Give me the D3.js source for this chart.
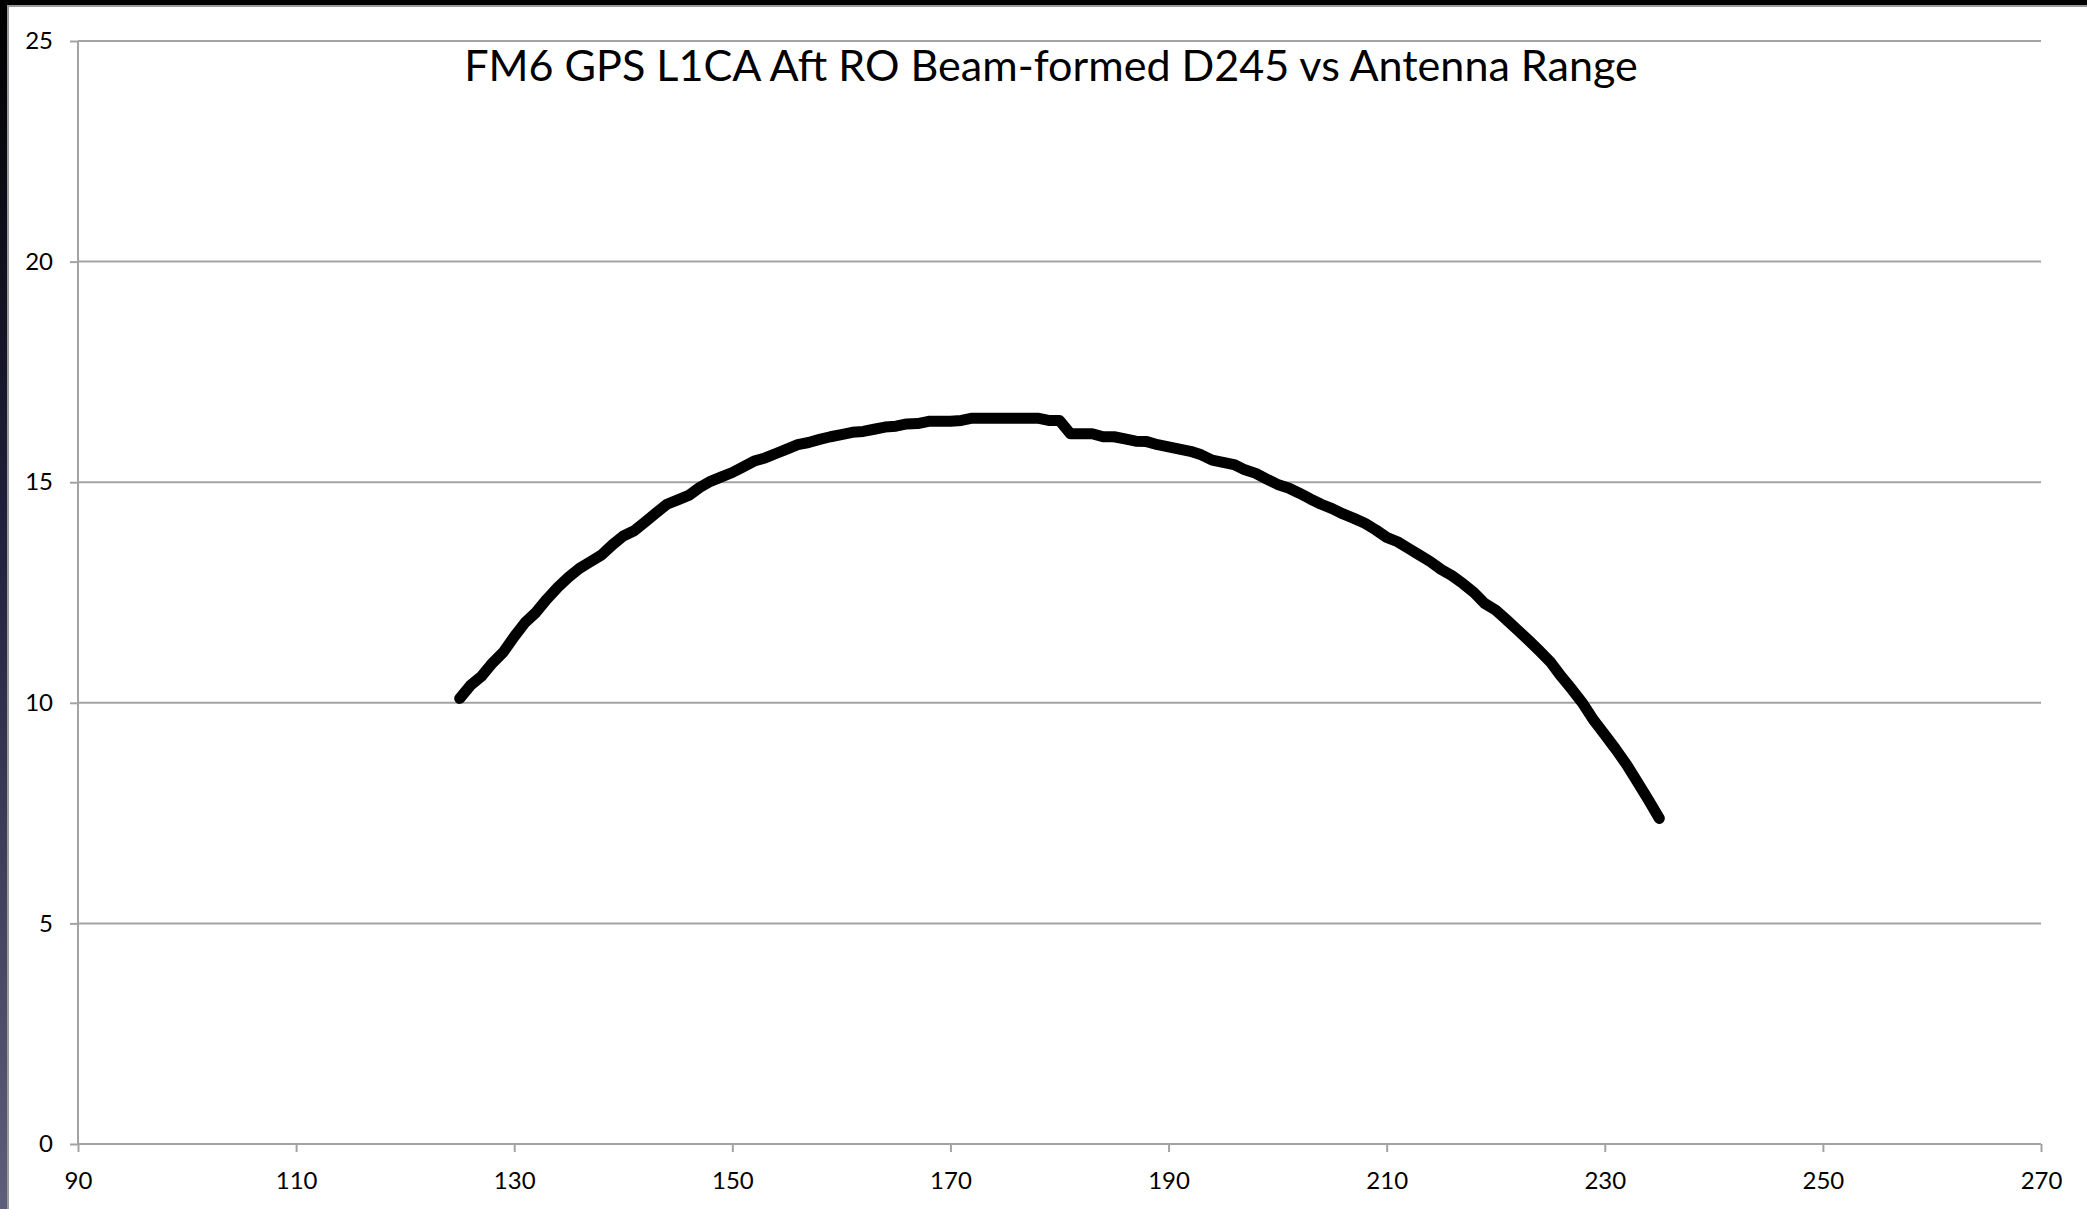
<!DOCTYPE html>
<html>
<head>
<meta charset="utf-8">
<script src="https://cdn.jsdelivr.net/npm/d3@7"></script>
<style>
  html, body { margin: 0; padding: 0; background: #fff; overflow: hidden; }
  svg { display: block; }
  text { font-family: Lato, "Open Sans", sans-serif; fill: #000; }
</style>
</head>
<body>
<svg id="chart" width="2087" height="1209"></svg>
<script>
const titleText = "FM6 GPS L1CA Aft RO Beam-formed D245 vs Antenna Range";
const xTicks = [90, 110, 130, 150, 170, 190, 210, 230, 250, 270];
const yTicks = [0, 5, 10, 15, 20, 25];
const antennaRange = [125,126,127,128,129,130,131,132,133,134,135,136,137,138,139,140,141,142,143,144,145,146,147,148,149,150,
  151,152,153,154,155,156,157,158,159,160,161,162,163,164,165,166,167,168,169,170,171,172,173,174,175,176,177,178,179,180,
  181,182,183,184,185,186,187,188,189,190,191,192,193,194,195,196,197,198,199,200,201,202,203,204,205,206,207,208,209,210,
  211,212,213,214,215,216,217,218,219,220,221,222,223,224,225,226,227,228,229,230,231,232,233,234,235];
const d245 = [10.1,10.4,10.6,10.9,11.15,11.5,11.82,12.05,12.35,12.62,12.85,13.05,13.2,13.35,13.58,13.78,13.9,14.1,14.3,14.5,14.6,14.7,14.88,15.02,15.12,15.22,
  15.35,15.48,15.55,15.65,15.75,15.85,15.9,15.97,16.03,16.08,16.13,16.15,16.2,16.25,16.27,16.32,16.33,16.38,16.38,16.38,16.4,16.45,16.45,16.45,16.45,16.45,16.45,16.45,16.4,16.4,
  16.1,16.1,16.1,16.03,16.03,15.98,15.93,15.92,15.85,15.8,15.75,15.7,15.62,15.5,15.45,15.4,15.28,15.2,15.07,14.95,14.87,14.75,14.62,14.5,14.4,14.28,14.18,14.07,13.92,13.75,
  13.65,13.5,13.35,13.2,13.02,12.88,12.7,12.5,12.25,12.1,11.88,11.65,11.42,11.18,10.93,10.6,10.3,9.98,9.6,9.28,8.95,8.6,8.2,7.8,7.38];

const svg = d3.select("#chart");
const W = 2087, H = 1209;
const plot = { left: 78, right: 2041, top: 41, bottom: 1144 };
const gridColor = "#a3a3a3";

// frame: dark top band and gradient left band
const defs = svg.append("defs");
const grad = defs.append("linearGradient").attr("id", "leftGrad")
  .attr("x1", 0).attr("y1", 0).attr("x2", 0).attr("y2", 1);
grad.append("stop").attr("offset", "0%").attr("stop-color", "#000000");
grad.append("stop").attr("offset", "45%").attr("stop-color", "#22223e");
grad.append("stop").attr("offset", "100%").attr("stop-color", "#5e5e7a");
svg.append("rect").attr("x", 0).attr("y", 0).attr("width", W).attr("height", H).attr("fill", "#fff");
svg.append("rect").attr("x", 0).attr("y", 0).attr("width", W).attr("height", 6).attr("fill", "#000");
svg.append("rect").attr("x", 0).attr("y", 5).attr("width", W).attr("height", 2).attr("fill", "#9a9a9a");
svg.append("rect").attr("x", 0).attr("y", 0).attr("width", 8).attr("height", H).attr("fill", "url(#leftGrad)");
svg.append("rect").attr("x", 7).attr("y", 5).attr("width", 2).attr("height", H).attr("fill", "#9a9a9a");

const x = d3.scaleLinear().domain([90, 270]).range([plot.left, plot.right]);
const y = d3.scaleLinear().domain([0, 25]).range([plot.bottom, plot.top]);

// gridlines
svg.append("g").selectAll("line").data(yTicks.filter(d => d > 0)).join("line")
  .attr("x1", plot.left).attr("x2", plot.right)
  .attr("y1", d => y(d)).attr("y2", d => y(d))
  .attr("stroke", gridColor).attr("stroke-width", 2);

// y axis
const yAxis = svg.append("g").attr("transform", `translate(${plot.left},0)`)
  .call(d3.axisLeft(y).tickValues(yTicks).tickSize(8).tickPadding(17).tickFormat(d3.format("d")));
yAxis.selectAll("path,line").attr("stroke", gridColor).attr("stroke-width", 2);
yAxis.select(".domain").attr("d", `M0,${plot.top}V${plot.bottom}`);
yAxis.selectAll("text").attr("font-size", 24).attr("font-family", "Lato, sans-serif").attr("fill", "#000");

// x axis
const xAxis = svg.append("g").attr("transform", `translate(0,${plot.bottom})`)
  .call(d3.axisBottom(x).tickValues(xTicks).tickSize(8).tickPadding(20).tickFormat(d3.format("d")));
xAxis.selectAll("path,line").attr("stroke", gridColor).attr("stroke-width", 2);
xAxis.select(".domain").attr("d", `M${plot.left},0H${plot.right}`);
xAxis.selectAll("text").attr("font-size", 24).attr("font-family", "Lato, sans-serif").attr("fill", "#000");

// data line
const line = d3.line().x((d, i) => x(antennaRange[i])).y(d => y(d));
svg.append("path").datum(d245)
  .attr("d", line)
  .attr("fill", "none").attr("stroke", "#000").attr("stroke-width", 11)
  .attr("stroke-linejoin", "round").attr("stroke-linecap", "round");

// title
const title = svg.append("text").attr("x", 1051).attr("y", 81)
  .attr("text-anchor", "middle").attr("font-size", 44).text(titleText);
const w = title.node().getComputedTextLength();
title.attr("font-size", 44 * 1174 / w);
</script>
</body>
</html>
